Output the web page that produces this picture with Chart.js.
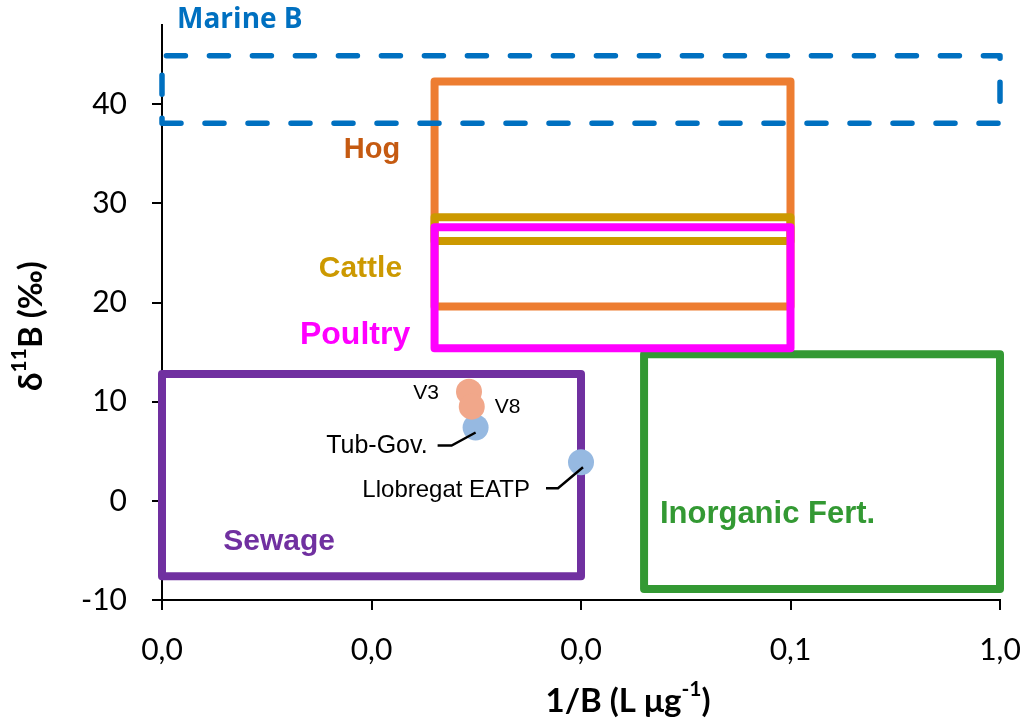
<!DOCTYPE html>
<html>
<head>
<meta charset="utf-8">
<script src="https://cdn.jsdelivr.net/npm/chart.js@4.4.1/dist/chart.umd.min.js"></script>
<style>
  html, body { margin: 0; padding: 0; background: #ffffff; overflow: hidden; }
  canvas { display: block; }
</style>
</head>
<body>
<canvas id="chart" width="1024" height="723"></canvas>
<script>
// Axis ticks
const xTickValues = [0.0001, 0.001, 0.01, 0.1, 1];
const xTickLabels = ['0,0', '0,0', '0,0', '0,1', '1,0'];
const yTickValues = [-10, 0, 10, 20, 30, 40];
const yTickLabels = ['-10', '0', '10', '20', '30', '40'];

// Source end-member fields: 1/B range (L µg-1) and δ11B range (‰)
const fieldNames = ['Marine B', 'Hog', 'Cattle', 'Poultry', 'Sewage', 'Inorganic Fert.'];
const fieldInvBMin = [0.0001, 0.002, 0.002, 0.002, 0.0001, 0.02];
const fieldInvBMax = [1, 0.1, 0.1, 0.1, 0.01, 1];
const fieldD11BMin = [38.1, 19.6, 26.2, 15.4, -7.6, -8.9];
const fieldD11BMax = [44.9, 42.3, 28.6, 27.6, 12.8, 14.8];

// Vineyard samples
const vineyardNames = ['V3', 'V8'];
const vineyardInvB = [0.00292, 0.00301];
const vineyardD11B = [11.0, 9.5];

// Effluent samples
const effluentNames = ['Tub-Gov.', 'Llobregat EATP'];
const effluentInvB = [0.00314, 0.0100];
const effluentD11B = [7.4, 3.9];

// ---- styling ----
const fieldStyle = {
  'Marine B':        { color: '#0070C0', dash: [19, 24], width: 5.5 },
  'Hog':             { color: '#ED7D31', width: 8 },
  'Cattle':          { color: '#CC9900', width: 8 },
  'Poultry':         { color: '#FF00FF', width: 8 },
  'Sewage':          { color: '#7030A0', width: 8 },
  'Inorganic Fert.': { color: '#339933', width: 8 }
};
// label anchor given in axis units, plus text style
const fieldLabel = {
  'Marine B':        { at: [0.000118, 48.5], align: 'left',   color: '#0070C0', size: 28, family: '"Open Sans"' },
  'Hog':             { at: [0.00137, 35.4], align: 'right',  color: '#C55A11', size: 29, family: '"Liberation Sans"' },
  'Cattle':          { at: [0.00140, 23.4], align: 'right',  color: '#CC9900', size: 30, family: '"Liberation Sans"' },
  'Poultry':         { at: [0.00153, 16.7], align: 'right',  color: '#FF00FF', size: 32, family: '"Liberation Sans"' },
  'Sewage':          { at: [0.000362, -4.1], align: 'center', color: '#7030A0', size: 30, family: '"Liberation Sans"' },
  'Inorganic Fert.': { at: [0.0238, -1.4],  align: 'left',   color: '#339933', size: 31, family: '"Liberation Sans"' }
};
const sampleLabel = {
  'V3':             { dx: -30, dy: 1, align: 'right', size: 21 },
  'V8':             { dx: 23, dy: 1, align: 'left', size: 21 },
  'Tub-Gov.':       { dx: -48, dy: 19, align: 'right', size: 25, leader: [[-38, 18], [-24, 18], [0, 5]] },
  'Llobregat EATP': { dx: -51, dy: 28, align: 'right', size: 24, leader: [[-35, 26], [-23, 26], [2, 5]] }
};

function boxPath(i) {
  const x0 = fieldInvBMin[i], x1 = fieldInvBMax[i];
  const y0 = fieldD11BMin[i], y1 = fieldD11BMax[i];
  return [{x: x0, y: y0}, {x: x1, y: y0}, {x: x1, y: y1}, {x: x0, y: y1}, {x: x0, y: y0}];
}

function fieldDataset(name) {
  const i = fieldNames.indexOf(name);
  const st = fieldStyle[name];
  return {
    label: name,
    data: boxPath(i),
    showLine: true,
    borderColor: st.color,
    borderWidth: st.width,
    borderDash: st.dash || [],
    borderCapStyle: 'round',
    borderJoinStyle: 'round',
    pointRadius: 0,
    pointHoverRadius: 0,
    fill: false,
    tension: 0,
    clip: false
  };
}

function pointDataset(label, names, xs, ys, color) {
  return {
    label: label,
    data: names.map((n, i) => ({x: xs[i], y: ys[i], name: n})),
    showLine: false,
    pointRadius: 13,
    pointHoverRadius: 13,
    pointBackgroundColor: color,
    pointBorderWidth: 0,
    borderWidth: 0,
    clip: false
  };
}

// first dataset ends up on top
const datasets = [
  pointDataset('Vineyards', vineyardNames, vineyardInvB, vineyardD11B, '#F1A78A'),
  pointDataset('Effluents', effluentNames, effluentInvB, effluentD11B, '#96B9E1'),
  fieldDataset('Marine B'),
  fieldDataset('Poultry'),
  fieldDataset('Cattle'),
  fieldDataset('Hog'),
  fieldDataset('Sewage'),
  fieldDataset('Inorganic Fert.')
];

function drawRich(ctx, parts, cx, cy, size, supSize, supRise) {
  const fonts = parts.map(p => `bold ${p.sup ? supSize : size}px Lato`);
  let total = 0;
  const widths = parts.map((p, i) => { ctx.font = fonts[i]; const w = ctx.measureText(p.t).width; total += w; return w; });
  let x = cx - total / 2;
  ctx.textAlign = 'left';
  ctx.textBaseline = 'middle';
  parts.forEach((p, i) => {
    ctx.font = fonts[i];
    ctx.fillText(p.t, x, p.sup ? cy - supRise : cy);
    x += widths[i];
  });
}

const annotations = {
  id: 'annotations',
  afterDatasetsDraw(chart) {
    const ctx = chart.ctx;
    const xs = chart.scales.x, ys = chart.scales.y;

    fieldNames.forEach(name => {
      const lb = fieldLabel[name];
      ctx.save();
      ctx.font = `bold ${lb.size}px ${lb.family}`;
      ctx.fillStyle = lb.color;
      ctx.textAlign = lb.align;
      ctx.textBaseline = 'middle';
      ctx.fillText(name, xs.getPixelForValue(lb.at[0]), ys.getPixelForValue(lb.at[1]));
      ctx.restore();
    });

    [0, 1].forEach(di => {
      const meta = chart.getDatasetMeta(di);
      const data = chart.data.datasets[di].data;
      meta.data.forEach((el, k) => {
        const name = data[k].name;
        const lb = sampleLabel[name];
        ctx.save();
        ctx.fillStyle = '#000';
        ctx.font = `${lb.size}px "Liberation Sans", Arial, sans-serif`;
        ctx.textAlign = lb.align;
        ctx.textBaseline = 'middle';
        ctx.fillText(name, el.x + lb.dx, el.y + lb.dy);
        if (lb.leader) {
          ctx.strokeStyle = '#000';
          ctx.lineWidth = 2.5;
          ctx.lineJoin = 'miter';
          ctx.beginPath();
          lb.leader.forEach((p, j) => {
            if (j === 0) ctx.moveTo(el.x + p[0], el.y + p[1]);
            else ctx.lineTo(el.x + p[0], el.y + p[1]);
          });
          ctx.stroke();
        }
        ctx.restore();
      });
    });
  },
  afterDraw(chart) {
    const ctx = chart.ctx;
    ctx.save();
    ctx.fillStyle = '#000';
    // x-axis title
    drawRich(ctx, [{t: '1/B (L \u03bcg'}, {t: '-1', sup: true}, {t: ')'}], 628, 701, 33, 21, 12);
    // y-axis title
    ctx.translate(31, 326);
    ctx.rotate(-Math.PI / 2);
    drawRich(ctx, [{t: '\u03b4'}, {t: '11', sup: true}, {t: 'B (\u2030)'}], 0, 0, 33, 21, 12);
    ctx.restore();
  }
};

new Chart(document.getElementById('chart'), {
  type: 'scatter',
  data: { datasets: datasets },
  plugins: [annotations],
  options: {
    responsive: false,
    animation: false,
    devicePixelRatio: 1,
    events: [],
    layout: { padding: { top: 25, right: 24, left: 0, bottom: 0 } },
    plugins: { legend: { display: false }, tooltip: { enabled: false } },
    scales: {
      x: {
        type: 'logarithmic',
        min: xTickValues[0],
        max: xTickValues[xTickValues.length - 1],
        afterBuildTicks: s => { s.ticks = xTickValues.map(v => ({ value: v, major: true })); },
        afterFit: s => { s.height = 123; s.paddingLeft = 0; s.paddingRight = 0; },
        ticks: {
          callback: (v, i) => xTickLabels[i],
          autoSkip: false,
          maxRotation: 0,
          color: '#000',
          font: { family: 'Lato', size: 30 },
          padding: 22
        },
        grid: { drawOnChartArea: false, drawTicks: true, tickLength: 10, color: '#000', lineWidth: 2 },
        border: { display: true, color: '#000', width: 2 }
      },
      y: {
        type: 'linear',
        min: -10,
        max: 48,
        afterBuildTicks: s => { s.ticks = yTickValues.map(v => ({ value: v })); },
        afterFit: s => { s.width = 162; s.paddingTop = 0; s.paddingBottom = 0; },
        ticks: {
          callback: (v, i) => yTickLabels[i],
          color: '#000',
          font: { family: 'Lato', size: 30 },
          padding: 25
        },
        grid: { drawOnChartArea: false, drawTicks: true, tickLength: 10, color: '#000', lineWidth: 2 },
        border: { display: true, color: '#000', width: 2 }
      }
    }
  }
});
</script>
</body>
</html>
